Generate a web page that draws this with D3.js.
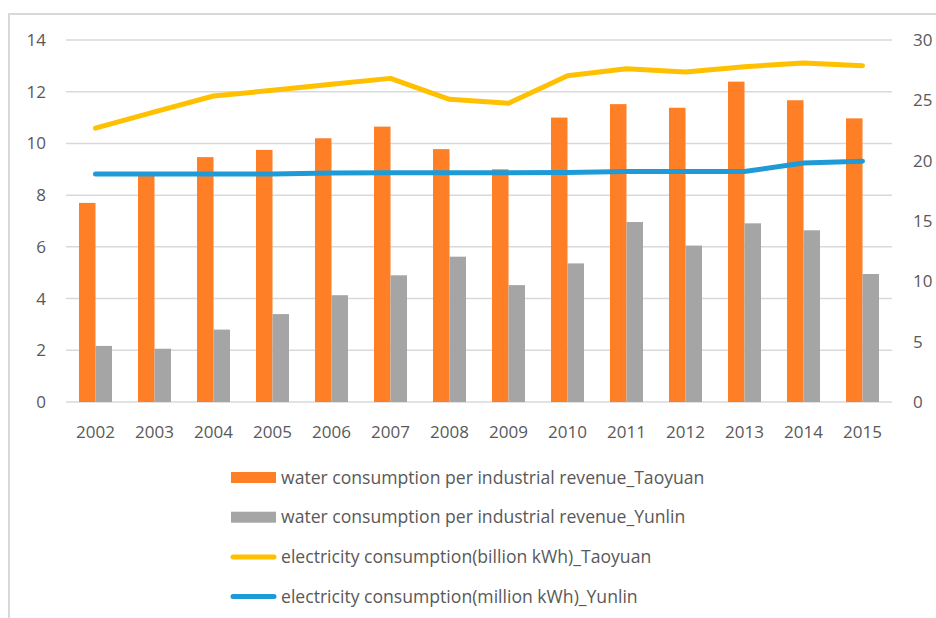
<!DOCTYPE html>
<html>
<head>
<meta charset="utf-8">
<script src="https://cdn.jsdelivr.net/npm/d3@7"></script>
<style>
  body { margin: 0; background: #fff; }
  text { font-family: "Open Sans", "Liberation Sans", sans-serif; fill: #595959; }
</style>
</head>
<body>
<div id="chart"></div>
<script>
var years = ["2002","2003","2004","2005","2006","2007","2008","2009","2010","2011","2012","2013","2014","2015"]
var waterTaoyuan = [7.7, 8.75, 9.47, 9.75, 10.2, 10.65, 9.78, 9.0, 11.0, 11.52, 11.38, 12.39, 11.67, 10.97]
var waterYunlin = [2.17, 2.06, 2.8, 3.4, 4.13, 4.9, 5.62, 4.52, 5.36, 6.96, 6.05, 6.91, 6.64, 4.95]
var elecTaoyuan = [22.7, 24.05, 25.36, 25.83, 26.33, 26.82, 25.08, 24.75, 27.04, 27.62, 27.35, 27.79, 28.09, 27.87]
var elecYunlin = [18.9, 18.9, 18.9, 18.9, 18.98, 19.0, 19.0, 19.0, 19.02, 19.1, 19.1, 19.1, 19.8, 19.95]
var leftTicks = [0, 2, 4, 6, 8, 10, 12, 14]
var rightTicks = [0, 5, 10, 15, 20, 25, 30]
var seriesNames = [
  "water consumption per industrial revenue_Taoyuan",
  "water consumption per industrial revenue_Yunlin",
  "electricity consumption(billion kWh)_Taoyuan",
  "electricity consumption(million kWh)_Yunlin"
]
var colors = ["#ff7f27", "#a5a5a5", "#ffc000", "#1e9bd7"]

var width = 936, height = 618
var plot = {left: 66, right: 892, top: 40, bottom: 402}

var svg = d3.select("#chart").append("svg")
  .attr("width", width)
  .attr("height", height)

// chart frame (only top/left edges fall inside the picture)
svg.append("rect")
  .attr("x", 9).attr("y", 14)
  .attr("width", 940).attr("height", 620)
  .attr("fill", "none")
  .attr("stroke", "#d9d9d9")
  .attr("stroke-width", 2)

var x = d3.scaleBand().domain(years).range([plot.left, plot.right])
var yL = d3.scaleLinear().domain([0, 14]).range([plot.bottom, plot.top])
var yR = d3.scaleLinear().domain([0, 30]).range([plot.bottom, plot.top])

// gridlines
svg.append("g")
  .selectAll("line")
  .data(leftTicks)
  .enter()
  .append("line")
  .attr("x1", plot.left).attr("x2", plot.right)
  .attr("y1", d => yL(d)).attr("y2", d => yL(d))
  .attr("stroke", "#d9d9d9")
  .attr("stroke-width", 1.5)

// left axis labels
svg.append("g")
  .selectAll("text")
  .data(leftTicks)
  .enter()
  .append("text")
  .attr("x", 46)
  .attr("y", d => yL(d))
  .attr("dy", "0.35em")
  .attr("text-anchor", "end")
  .style("font-size", "17px")
  .text(d => d)

// right axis labels
svg.append("g")
  .selectAll("text")
  .data(rightTicks)
  .enter()
  .append("text")
  .attr("x", 913)
  .attr("y", d => yR(d))
  .attr("dy", "0.35em")
  .attr("text-anchor", "start")
  .style("font-size", "17px")
  .text(d => d)

// x axis labels
svg.append("g")
  .selectAll("text")
  .data(years)
  .enter()
  .append("text")
  .attr("x", d => x(d) + x.bandwidth() / 2)
  .attr("y", 438)
  .attr("text-anchor", "middle")
  .style("font-size", "17px")
  .text(d => d)

var barW = 16.5

svg.append("g")
  .selectAll("rect")
  .data(waterTaoyuan)
  .enter()
  .append("rect")
  .attr("x", (d, i) => x(years[i]) + x.bandwidth() / 2 - barW)
  .attr("y", d => yL(d))
  .attr("width", barW)
  .attr("height", d => yL(0) - yL(d))
  .attr("fill", colors[0])

svg.append("g")
  .selectAll("rect")
  .data(waterYunlin)
  .enter()
  .append("rect")
  .attr("x", (d, i) => x(years[i]) + x.bandwidth() / 2)
  .attr("y", d => yL(d))
  .attr("width", barW)
  .attr("height", d => yL(0) - yL(d))
  .attr("fill", colors[1])

var line = d3.line()
  .x((d, i) => x(years[i]) + x.bandwidth() / 2)
  .y(d => yR(d))

svg.append("path")
  .datum(elecTaoyuan)
  .attr("d", line)
  .attr("fill", "none")
  .attr("stroke", colors[2])
  .attr("stroke-width", 5)
  .attr("stroke-linecap", "round")
  .attr("stroke-linejoin", "round")

svg.append("path")
  .datum(elecYunlin)
  .attr("d", line)
  .attr("fill", "none")
  .attr("stroke", colors[3])
  .attr("stroke-width", 5)
  .attr("stroke-linecap", "round")
  .attr("stroke-linejoin", "round")

// legend
var legend = svg.append("g")
  .selectAll("g")
  .data(seriesNames)
  .enter()
  .append("g")
  .attr("transform", (d, i) => `translate(231, ${477.5 + i * 39.7})`)

legend.each(function(d, i) {
  var g = d3.select(this)
  if (i < 2) {
    g.append("rect")
      .attr("x", 0).attr("y", -5.5)
      .attr("width", 45).attr("height", 11)
      .attr("fill", colors[i])
  } else {
    g.append("line")
      .attr("x1", 2).attr("x2", 43)
      .attr("y1", 0).attr("y2", 0)
      .attr("stroke", colors[i])
      .attr("stroke-width", 5)
      .attr("stroke-linecap", "round")
  }
  g.append("text")
    .attr("x", 50)
    .attr("dy", "0.35em")
    .style("font-size", "17.6px")
    .text(d)
})
</script>
</body>
</html>
